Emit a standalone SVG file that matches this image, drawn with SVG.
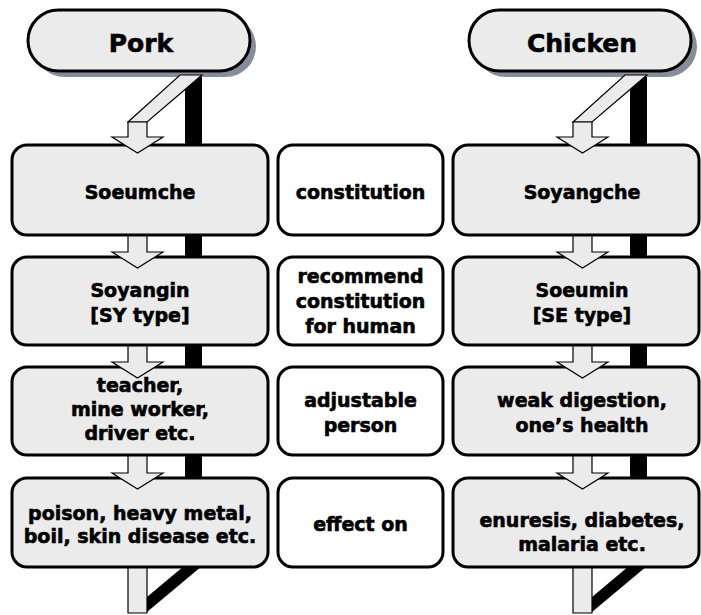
<svg xmlns="http://www.w3.org/2000/svg" width="701" height="615" viewBox="0 0 701 615">
<style>
.shadow{fill:#868d99;stroke:none}
.oval{fill:#ebebeb;stroke:#000;stroke-width:3}
.box{fill:#ebebeb;stroke:#000;stroke-width:3}
.mbox{fill:#fff;stroke:#000;stroke-width:3}
.bar{fill:#000;stroke:none}
.arr{fill:#ebebeb;stroke:#000;stroke-width:1.2;stroke-linejoin:miter}
text{font-family:"DejaVu Sans","Verdana",sans-serif;font-weight:bold;fill:#000;stroke:#000;stroke-width:0.6;text-anchor:middle}
.t{font-size:19px}
.h{font-size:25px}
</style>
<rect width="701" height="615" fill="#fff"/>
<g id="connectors-back">
<polygon class="bar" points="202,75 202,567 185,567 185,89"/>
<polygon class="bar" points="184,566 202,566 147,612 147,597"/>
<polygon class="bar" points="647,75 647,567 630,567 630,89"/>
<polygon class="bar" points="629,566 647,566 592,612 592,597"/>
</g>
<g id="pork">
<rect class="shadow" x="34" y="16" width="222" height="61" rx="30.5"/>
<rect class="oval" x="28" y="10" width="222" height="61" rx="30.5"/>
<text class="h" x="141" y="52">Pork</text>
</g>
<g id="chicken">
<rect class="shadow" x="475" y="16" width="222" height="61" rx="30.5"/>
<rect class="oval" x="469" y="10" width="222" height="61" rx="30.5"/>
<text class="h" x="582" y="52">Chicken</text>
</g>
<g id="soeumche">
<rect class="box" x="12" y="145" width="256" height="90" rx="15"/>
<text class="t" x="140" y="199">Soeumche</text>
</g>
<g id="soyangin">
<rect class="box" x="12" y="257" width="256" height="88" rx="15"/>
<text class="t" x="140" y="297">Soyangin</text>
<text class="t" x="140" y="322">[SY type]</text>
</g>
<g id="pork-person">
<rect class="box" x="12" y="367" width="256" height="88" rx="15"/>
<text class="t" x="140" y="392">teacher,</text>
<text class="t" x="140" y="416">mine worker,</text>
<text class="t" x="140" y="440">driver etc.</text>
</g>
<g id="pork-effect">
<rect class="box" x="12" y="478" width="256" height="89" rx="15"/>
<text class="t" x="140" y="520">poison, heavy metal,</text>
<text class="t" x="140" y="543">boil, skin disease etc.</text>
</g>
<g id="constitution">
<rect class="mbox" x="278" y="145" width="165" height="90" rx="15"/>
<text class="t" x="360.5" y="199">constitution</text>
</g>
<g id="recommend">
<rect class="mbox" x="278" y="257" width="165" height="88" rx="15"/>
<text class="t" x="360.5" y="283">recommend</text>
<text class="t" x="360.5" y="308">constitution</text>
<text class="t" x="360.5" y="333">for human</text>
</g>
<g id="adjustable">
<rect class="mbox" x="278" y="367" width="165" height="88" rx="15"/>
<text class="t" x="360.5" y="407">adjustable</text>
<text class="t" x="360.5" y="432">person</text>
</g>
<g id="effect-on">
<rect class="mbox" x="278" y="478" width="165" height="89" rx="15"/>
<text class="t" x="360.5" y="531">effect on</text>
</g>
<g id="soyangche">
<rect class="box" x="453" y="145" width="246" height="90" rx="15"/>
<text class="t" x="582" y="199">Soyangche</text>
</g>
<g id="soeumin">
<rect class="box" x="453" y="257" width="246" height="88" rx="15"/>
<text class="t" x="582" y="297">Soeumin</text>
<text class="t" x="582" y="322">[SE type]</text>
</g>
<g id="chicken-person">
<rect class="box" x="453" y="367" width="246" height="88" rx="15"/>
<text class="t" x="582" y="407">weak digestion,</text>
<text class="t" x="582" y="432">one’s health</text>
</g>
<g id="chicken-effect">
<rect class="box" x="453" y="478" width="246" height="89" rx="15"/>
<text class="t" x="582" y="527">enuresis, diabetes,</text>
<text class="t" x="582" y="551">malaria etc.</text>
</g>
<g id="connectors">
<polygon class="arr" points="180,75 202,75 147,122 128,122"/>
<polygon class="arr" points="128,122 147,122 147,137 163,137 137.5,153 112,137 128,137"/>
<polygon class="arr" points="128,236 147,236 147,252 163,252 137.5,268 112,252 128,252"/>
<polygon class="arr" points="128,346 147,346 147,362 163,362 137.5,378 112,362 128,362"/>
<polygon class="arr" points="128,456 147,456 147,473 163,473 137.5,489 112,473 128,473"/>
<polygon class="arr" points="128,568 147,568 147,613 128,613"/>
<polygon class="arr" points="625,75 647,75 592,122 573,122"/>
<polygon class="arr" points="573,122 592,122 592,137 608,137 582.5,153 557,137 573,137"/>
<polygon class="arr" points="573,236 592,236 592,252 608,252 582.5,268 557,252 573,252"/>
<polygon class="arr" points="573,346 592,346 592,362 608,362 582.5,378 557,362 573,362"/>
<polygon class="arr" points="573,456 592,456 592,473 608,473 582.5,489 557,473 573,473"/>
<polygon class="arr" points="573,568 592,568 592,613 573,613"/>
</g>
</svg>
